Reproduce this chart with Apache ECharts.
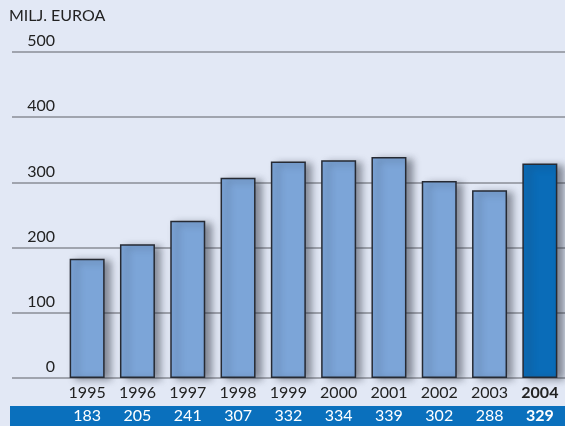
<!DOCTYPE html>
<html>
<head>
<meta charset="utf-8">
<script src="https://cdn.jsdelivr.net/npm/echarts@6/dist/echarts.min.js"></script>
<style>
html, body { margin: 0; padding: 0; background: #e2e8f5; }
#chart { width: 565px; height: 426px; }
</style>
</head>
<body>
<div id="chart"></div>
<script>
// vuodet ja arvot
var years = ['1995', '1996', '1997', '1998', '1999', '2000', '2001', '2002', '2003', '2004'];
var values = [183, 205, 241, 307, 332, 334, 339, 302, 288, 329];
var yTicks = [0, 100, 200, 300, 400, 500];
var lastIdx = years.length - 1;

var myChart = echarts.init(document.getElementById('chart'));
var font = 'Lato, "DejaVu Sans", sans-serif';

var barData = [];
for (var i = 0; i < values.length; i++) {
	barData.push({
		value: values[i],
		itemStyle: { color: i == lastIdx ? '#0a6cb8' : '#7ca5d8' }
	});
}

var option = {
	backgroundColor: '#e2e8f5',
	animation: false,
	graphic: [{
		type: 'rect',
		z: -10,
		shape: { x: 10, y: 406, width: 560, height: 22 },
		style: { fill: '#0a70bd' }
	}, {
		type: 'text',
		left: 9, top: 8,
		style: { text: 'MILJ. EUROA', fontSize: 16, fontFamily: font, fill: '#222' }
	}],
	grid: [
		{ left: 12, right: 0, top: 52, bottom: 48 },
		{ left: 62, right: -1, top: 52, bottom: 48 }
	],
	xAxis: [{
		gridIndex: 0, type: 'value', show: false
	}, {
		gridIndex: 1, type: 'category', data: years,
		axisLine: { show: false }, axisTick: { show: false },
		axisLabel: {
			interval: 0,
			margin: 7, fontSize: 16, fontFamily: font, color: '#222',
			formatter: function(v, idx) { return idx == lastIdx ? '{b|' + v + '}' : v; },
			rich: { b: { fontSize: 16, fontFamily: font, fontWeight: 'bold', color: '#222' } }
		}
	}, {
		gridIndex: 1, type: 'category', data: values, position: 'bottom', offset: 30,
		axisLine: { show: false }, axisTick: { show: false },
		axisLabel: {
			interval: 0,
			margin: 0, fontSize: 16, fontFamily: font, color: '#fff',
			formatter: function(v, idx) { return idx == lastIdx ? '{b|' + v + '}' : v; },
			rich: { b: { fontSize: 16, fontFamily: font, fontWeight: 'bold', color: '#fff' } }
		}
	}],
	yAxis: [{
		gridIndex: 0, type: 'value', min: 0, max: 500, interval: 100,
		axisLine: { show: false }, axisTick: { show: false }, axisLabel: { show: false },
		splitLine: { show: true, lineStyle: { color: '#a0a4ae', width: 2 } }
	}, {
		gridIndex: 1, type: 'value', min: yTicks[0], max: yTicks[yTicks.length - 1], interval: 100,
		axisLine: { show: false }, axisTick: { show: false }, splitLine: { show: false },
		axisLabel: {
			margin: 7, fontSize: 16, fontFamily: font, color: '#222',
			verticalAlign: 'bottom', padding: [0, 0, 3, 0]
		}
	}],
	series: [{
		type: 'bar',
		xAxisIndex: 1, yAxisIndex: 1,
		barWidth: 35,
		data: barData,
		itemStyle: {
			borderColor: '#262a33', borderWidth: 1.5,
			shadowColor: 'rgba(40,45,60,0.5)', shadowBlur: 7, shadowOffsetX: 6, shadowOffsetY: 2
		}
	}]
};
myChart.setOption(option);
</script>
</body>
</html>
